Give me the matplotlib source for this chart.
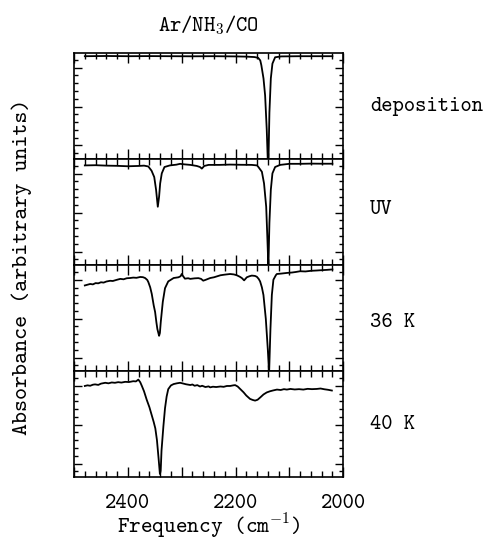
import numpy as np
import matplotlib
matplotlib.use("Agg")
import matplotlib.pyplot as plt
from matplotlib.ticker import MultipleLocator, FuncFormatter

plt.rcParams['font.family'] = ['cmtt10', 'DejaVu Sans Mono']
plt.rcParams['mathtext.fontset'] = 'cm'
plt.rcParams['axes.unicode_minus'] = False

# spectra: (frequency cm-1, absorbance, panel units)
deposition = [
    (2480, 0.970), (2440, 0.972), (2400, 0.970), (2360, 0.971), (2320, 0.970),
    (2280, 0.969), (2240, 0.970), (2200, 0.968), (2180, 0.966), (2165, 0.962),
    (2158, 0.955), (2154, 0.930), (2152, 0.885), (2148, 0.760), (2145, 0.600),
    (2142, 0.280), (2140, -0.02), (2138.8, -0.02), (2137, 0.440), (2134.4, 0.760),
    (2131.4, 0.900), (2126.4, 0.960), (2115, 0.968), (2080, 0.970), (2040, 0.970),
    (2020, 0.970),
]

uv = [
    (2480, 0.940), (2460, 0.942), (2440, 0.938), (2420, 0.936), (2400, 0.932),
    (2380, 0.935), (2370, 0.938), (2362, 0.930), (2356, 0.890), (2351, 0.830),
    (2347.6, 0.710), (2344.4, 0.550), (2342, 0.645), (2340, 0.770), (2337, 0.865),
    (2332, 0.925), (2322, 0.940), (2310, 0.947), (2303, 0.955), (2295, 0.950),
    (2284, 0.945), (2272, 0.935), (2266, 0.925), (2262.6, 0.910), (2258, 0.935),
    (2250, 0.945), (2230, 0.945), (2210, 0.948), (2190, 0.946), (2170, 0.945),
    (2160, 0.940), (2157.5, 0.925), (2151, 0.880), (2147, 0.770), (2143, 0.550),
    (2140.7, 0.240), (2138.9, -0.02), (2137, 0.400), (2134.4, 0.710), (2131.4, 0.865),
    (2126.4, 0.925), (2117, 0.945), (2100, 0.955), (2080, 0.955), (2060, 0.957),
    (2040, 0.956), (2020, 0.956),
]

k36 = [
    (2480, 0.808), (2475, 0.815), (2470, 0.822), (2465, 0.818), (2460, 0.830),
    (2455, 0.828), (2450, 0.838), (2445, 0.835), (2440, 0.845), (2433, 0.852),
    (2428, 0.850), (2420, 0.862), (2414, 0.870), (2408, 0.866), (2402, 0.876),
    (2396, 0.878), (2390, 0.882), (2384, 0.880), (2377, 0.888), (2372, 0.886),
    (2368, 0.878), (2364, 0.860), (2362, 0.840), (2358.5, 0.790), (2355.6, 0.728),
    (2352, 0.620), (2349.4, 0.558), (2347, 0.460), (2345.2, 0.397), (2342, 0.333),
    (2340.5, 0.360), (2338.9, 0.462), (2335.1, 0.654), (2331, 0.782), (2325, 0.846),
    (2315, 0.878), (2306, 0.885), (2302, 0.895), (2300, 0.916), (2298, 0.900),
    (2294, 0.872), (2288, 0.876), (2284, 0.870), (2276, 0.875), (2269, 0.877),
    (2264, 0.870), (2260, 0.853), (2256, 0.860), (2247, 0.878), (2240, 0.885),
    (2228, 0.904), (2220, 0.910), (2210, 0.916), (2203, 0.912), (2197.6, 0.904),
    (2192, 0.890), (2188.3, 0.878), (2184, 0.856), (2179, 0.885), (2174, 0.895),
    (2169.7, 0.901), (2164, 0.898), (2160.4, 0.890), (2157, 0.870), (2154.3, 0.846),
    (2151, 0.790), (2148.1, 0.718), (2143.7, 0.493), (2140, 0.205), (2137.6, -0.02),
    (2135.1, 0.397), (2132.5, 0.718), (2129.6, 0.862), (2125, 0.905), (2123.2, 0.916),
    (2115, 0.920), (2104.6, 0.926), (2095, 0.930), (2088, 0.935), (2080, 0.942),
    (2070, 0.940), (2060, 0.946), (2049, 0.949), (2040, 0.952), (2030, 0.955),
    (2020, 0.959),
]

k40 = [
    (2480, 0.860), (2475, 0.866), (2470, 0.862), (2465, 0.872), (2461, 0.875),
    (2455, 0.870), (2450, 0.882), (2442, 0.890), (2436, 0.885), (2430, 0.893),
    (2424, 0.890), (2418, 0.896), (2412, 0.892), (2405, 0.899), (2398, 0.897),
    (2390, 0.905), (2385, 0.903), (2380.5, 0.920), (2377, 0.895), (2374, 0.860),
    (2370, 0.810), (2365, 0.730), (2360, 0.660), (2356, 0.590), (2352, 0.520),
    (2349, 0.460), (2346, 0.350), (2343, 0.180), (2340.5, 0.030), (2339, 0.060),
    (2337.5, 0.250), (2334, 0.480), (2331, 0.650), (2328, 0.760), (2325, 0.830),
    (2320, 0.865), (2315, 0.878), (2309, 0.885), (2303, 0.890), (2298, 0.884),
    (2292, 0.876), (2284, 0.869), (2280, 0.874), (2276, 0.862), (2271, 0.868),
    (2266, 0.855), (2262, 0.862), (2256, 0.850), (2250, 0.856), (2247, 0.847),
    (2242, 0.853), (2236, 0.850), (2228, 0.855), (2222, 0.852), (2216, 0.860),
    (2210, 0.860), (2204, 0.866), (2200.7, 0.868), (2196, 0.855), (2192, 0.835),
    (2185, 0.800), (2180, 0.770), (2173, 0.738), (2168, 0.728), (2163.6, 0.722),
    (2159, 0.730), (2154, 0.752), (2148, 0.780), (2142, 0.799), (2136, 0.810),
    (2130, 0.818), (2123, 0.826), (2116, 0.822), (2110, 0.830), (2104.6, 0.826),
    (2098, 0.832), (2090, 0.827), (2082, 0.830), (2074, 0.826), (2066, 0.833),
    (2058, 0.830), (2049, 0.832), (2042, 0.836), (2035, 0.829), (2028, 0.824),
    (2021, 0.817),
]

spectra = [deposition, uv, k36, k40]
panel_labels = ["deposition", "UV", "36 K", "40 K"]
label_y = [0.50, 0.52, 0.46, 0.50]
tick_labels = [2400, 2200, 2000]

fs = 15.5

fig, axes = plt.subplots(4, 1, sharex=True, figsize=(4.84, 5.41), dpi=100)
fig.subplots_adjust(left=0.153, right=0.709, top=0.902, bottom=0.118, hspace=0)

for ax, spec, lab, ly in zip(axes, spectra, panel_labels, label_y):
    f, a = np.array(spec).T
    ax.plot(f, a, color='black', lw=1.3)
    ax.set_xlim(2500, 2000)
    ax.set_ylim(0, 1)
    ax.xaxis.set_major_locator(MultipleLocator(100))
    ax.xaxis.set_minor_locator(MultipleLocator(20))
    ax.set_yticks(np.arange(0.128, 1.0, 0.367))
    ax.set_yticks(np.arange(0.128 - 0.0734, 1.0, 0.0734), minor=True)
    ax.tick_params(which='both', direction='in', top=True, right=True,
                   labelleft=False, width=1.0)
    ax.tick_params(axis='x', which='major', length=7)
    ax.tick_params(axis='x', which='minor', length=4)
    ax.tick_params(axis='y', which='major', length=6)
    ax.tick_params(axis='y', which='minor', length=3)
    for s in ax.spines.values():
        s.set_linewidth(1.2)
    ax.text(1.10, ly, lab, transform=ax.transAxes, ha='left', va='center',
            fontsize=fs)

axes[-1].xaxis.set_major_formatter(
    FuncFormatter(lambda v, p: f"{int(round(v))}" if int(round(v)) in tick_labels else ""))
axes[-1].tick_params(axis='x', labelsize=fs, pad=12)

fig.text(208.5 / 484, 1 - 25 / 541, r"Ar/NH$_3$/CO", ha='center', va='center', fontsize=fs)
fig.text(208.5 / 484, 1 - 526 / 541, r"Frequency (cm$^{-1}$)", ha='center', va='center',
         fontsize=fs + 0.5)
fig.text(22 / 484, 1 - 267 / 541, "Absorbance (arbitrary units)", ha='center', va='center',
         rotation=90, fontsize=fs + 1)

fig.savefig("out.png", dpi=100)
